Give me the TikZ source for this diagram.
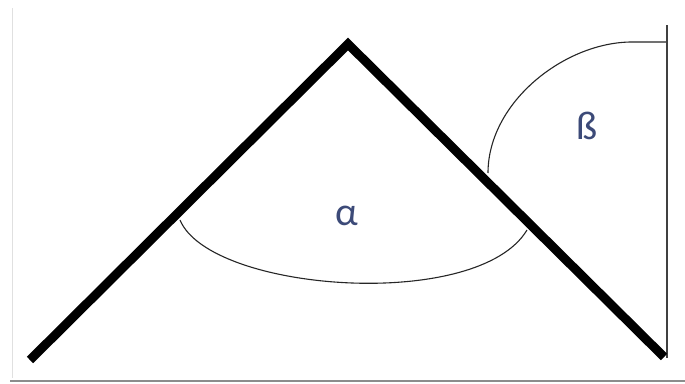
\documentclass[tikz,border=0pt]{standalone}
\usepackage{fontspec}
\setmainfont{Carlito}
\definecolor{lbl}{HTML}{3C4A78}
\begin{document}
\begin{tikzpicture}[x=1pt,y=-1pt,
  thick line/.style={line width=9pt,line cap=butt,line join=miter},
  thin arc/.style={line width=1.1pt,draw=black!85},
  angle label/.style={text=lbl,font=\fontsize{40}{40}\selectfont,inner sep=0pt}]
\useasboundingbox (0,0) rectangle (685,383);
\fill[white] (0,0) rectangle (685,383);
\draw[black!12,line width=0.8pt] (12,8) -- (12,378);
\draw[black!45,line width=2pt] (10,381) -- (685,381);
\coordinate (L) at (30,360);
\coordinate (A) at (348,44);
\coordinate (R) at (664,357);
\coordinate (VT) at (667,25);
\coordinate (VB) at (667,358);
\coordinate (a1) at (180,220);
\coordinate (a2) at (527,230);
\coordinate (b1) at (488,173);
\coordinate (b2) at (632,42);
\coordinate (b3) at (667,42);
\draw[thin arc] (a1) .. controls (210,292) and (478,312) .. (a2);
\draw[thin arc] (b1) .. controls (488,102) and (565,42) .. (b2) -- (b3);
\draw[black!75,line width=1.4pt] (VT) -- (VB);
\draw[thick line] (L) -- (A) -- (R);
\node[angle label] (alpha) at (347,216) {α};
\node[angle label] (beta) at (587,126) {ß};
\end{tikzpicture}
\end{document}
